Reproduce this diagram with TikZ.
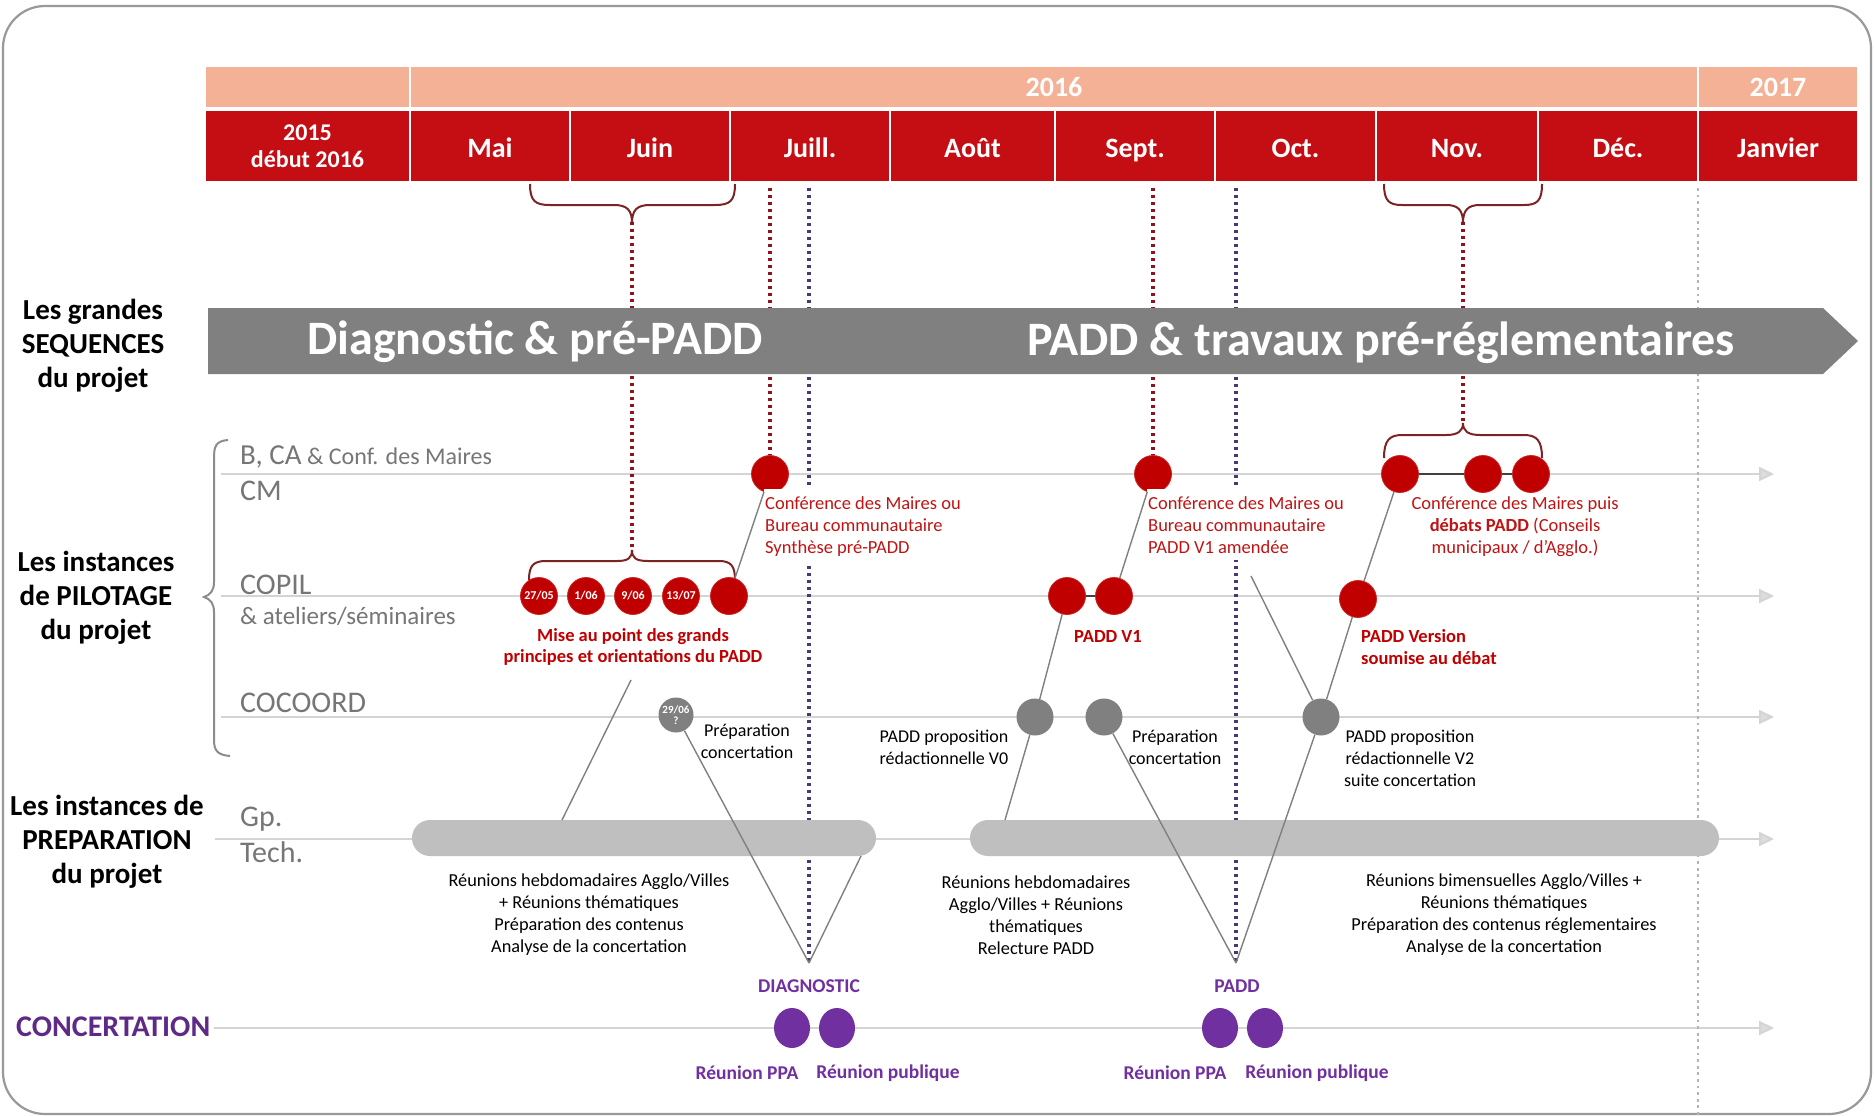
\documentclass[tikz,border=0pt]{standalone}
\usepackage{fontspec}
\setmainfont{Carlito}
\usetikzlibrary{arrows.meta,shapes.geometric}
\definecolor{cred}{RGB}{192,0,0}
\definecolor{hdrred}{RGB}{197,14,20}
\definecolor{peach}{RGB}{244,177,150}
\definecolor{bangrey}{RGB}{128,128,128}
\definecolor{lgrey}{RGB}{212,212,212}
\definecolor{bargrey}{RGB}{191,191,191}
\definecolor{cgrey}{RGB}{128,128,128}
\definecolor{cpurple}{RGB}{112,48,160}
\definecolor{lblgrey}{RGB}{118,118,118}
\definecolor{dotred}{RGB}{140,20,30}
\definecolor{dotblue}{RGB}{75,55,115}
\definecolor{bracecol}{RGB}{125,35,35}
\definecolor{redtxt}{RGB}{192,20,20}
\newcommand{\fsz}[2]{\fontsize{#1}{#2}\selectfont}
\begin{document}
\begin{tikzpicture}[x=1pt,y=-1pt,
  hdrcell/.style={fill=hdrred, draw=white, line width=1.5pt, text=white, font=\bfseries\fsz{28}{30}, inner sep=0pt, align=center, minimum height=72pt},
  mcell/.style={hdrcell, text height=25pt, text depth=2pt},
  peachcell/.style={fill=peach, draw=white, line width=1.5pt, text=white, font=\bfseries\fsz{28}{30}, inner sep=0pt, minimum height=42pt},
  bigleft/.style={font=\bfseries\fsz{29}{34}, align=center, inner sep=0pt},
  rowlbl/.style={text=lblgrey, anchor=west, inner sep=0pt, font=\fsz{30}{32}},
  hline/.style={draw=lgrey, line width=2pt, -{Triangle[length=15pt,width=14pt,fill=lgrey!80]}},
  dotr/.style={draw=dotred, line width=3.3pt, dash pattern=on 3.3pt off 3.7pt},
  dotb/.style={draw=dotblue, line width=3.3pt, dash pattern=on 3.3pt off 3.7pt},
  dotg/.style={draw=lgrey!85!black, line width=2.8pt, dash pattern=on 2.8pt off 3.8pt},
  brc/.style={draw=bracecol, line width=2pt},
  redc/.style={circle, fill=cred, draw=cred!85!white, line width=0.8pt, minimum size=37pt, inner sep=0pt, text=white, font=\bfseries\fsz{12}{13}},
  greyc/.style={circle, fill=cgrey, minimum size=37pt, inner sep=0pt, text=white, font=\bfseries\fsz{11}{11}, align=center},
  purc/.style={ellipse, fill=cpurple, minimum width=36pt, minimum height=40pt, inner sep=0pt},
  bar/.style={fill=bargrey, rounded corners=18pt, minimum height=36pt, inner sep=0pt},
  conn/.style={draw=cgrey, line width=1.4pt},
  darkconn/.style={draw=black!75, line width=1.6pt},
  redlbl/.style={text=redtxt, font=\fsz{18.5}{22}, align=left, inner xsep=1pt, inner ysep=7pt, fill=white},
  redbold/.style={text=cred, font=\bfseries\fsz{18.5}{21.5}, align=center, inner sep=1pt},
  blk/.style={text=black, font=\fsz{18}{22}, align=center, inner sep=1pt, fill=white},
  desc/.style={text=black, font=\fsz{18.3}{22}, align=center, inner sep=1pt},
  purlbl/.style={text=cpurple, font=\bfseries\fsz{19.5}{22}, inner sep=1pt}
]
\useasboundingbox (0,0) rectangle (1874,1116);
\fill[white] (0,0) rectangle (1874,1116);
\draw[line width=2.2pt, draw=black!40, rounded corners=42pt] (3,6) rectangle (1871,1114);

% ---------- header ----------
\node[peachcell, minimum width=205pt] (y0) at (307.5,87) {};
\node[peachcell, minimum width=1288pt] (y2016) at (1054,87) {2016};
\node[peachcell, minimum width=160pt] (y2017) at (1778,87) {2017};
\node[hdrcell, minimum width=205pt, font=\bfseries\fsz{24}{27}] (m0) at (307.5,146) {2015\\début 2016};
\node[mcell, minimum width=160pt] (m1) at (490,146) {Mai};
\node[mcell, minimum width=160pt] (m2) at (650,146) {Juin};
\node[mcell, minimum width=160pt] (m3) at (810,146) {Juill.};
\node[mcell, minimum width=165pt] (m4) at (972.5,146) {Août};
\node[mcell, minimum width=160pt] (m5) at (1135,146) {Sept.};
\node[mcell, minimum width=161pt] (m6) at (1295.5,146) {Oct.};
\node[mcell, minimum width=162pt] (m7) at (1457,146) {Nov.};
\node[mcell, minimum width=160pt] (m8) at (1618,146) {Déc.};
\node[mcell, minimum width=160pt] (m9) at (1778,146) {Janvier};

% ---------- left labels ----------
\node[bigleft] (seq) at (93,346) {Les grandes\\SEQUENCES\\du projet};
\node[bigleft] (pil) at (96,598) {Les instances\\de PILOTAGE\\du projet};
\node[bigleft] (prep) at (107,842) {Les instances de\\PREPARATION\\du projet};
\node[bigleft, text=cpurple!85!black, font=\bfseries\fsz{30}{34}, anchor=west] (conc) at (16,1027) {CONCERTATION};

% left curly brace
\draw[draw=black!45, line width=2pt] (228,440) .. controls (216,441) and (214,446) .. (214,458) -- (214,582) .. controls (214,591) and (210,595) .. (204,597) .. controls (210,599) and (214,603) .. (214,612) -- (214,740) .. controls (214,751) and (218,755) .. (230,756);

% row labels
\node[rowlbl] (lb1) at (240,457) {{\fsz{29}{30}B, CA}{\fsz{24}{30} \& Conf. des Maires}};
\node[rowlbl] (lb2) at (240,491) {CM};
\node[rowlbl] (lb3) at (240,585) {COPIL};
\node[rowlbl, font=\fsz{25}{28}] (lb4) at (240,616) {\& ateliers/séminaires};
\node[rowlbl] (lb5) at (240,703) {COCOORD};
\node[rowlbl] (lb6) at (240,819) {Gp.};
\node[rowlbl] (lb7) at (240,852) {Tech.};

% ---------- timelines ----------
\coordinate (tcm0) at (221,474);   \coordinate (tcm1) at (1774,474);
\coordinate (tcp0) at (221,596);   \coordinate (tcp1) at (1774,596);
\coordinate (tcc0) at (221,717);   \coordinate (tcc1) at (1774,717);
\coordinate (tgp0) at (215,839);   \coordinate (tgp1) at (1774,839);
\coordinate (tco0) at (214,1028);  \coordinate (tco1) at (1774,1028);
\draw[hline] (tcm0) -- (tcm1);
\draw[hline] (tcp0) -- (tcp1);
\draw[hline] (tcc0) -- (tcc1);
\draw[hline] (tgp0) -- (tgp1);
\draw[hline] (tco0) -- (tco1);

% ---------- key coordinates ----------
\coordinate (bt1) at (632,222);   % top-left brace tip
\coordinate (bt2) at (1463,222);  % top-right brace tip
\coordinate (bc1) at (632,551);   % COPIL brace tip
\coordinate (bc2) at (1463,424);  % CM brace tip
\coordinate (diagapex) at (809,963);
\coordinate (paddapex) at (1236,963);
\coordinate (d1) at (770,188);
\coordinate (d2) at (809,188);
\coordinate (d3) at (1153,188);
\coordinate (d4) at (1236,188);
\coordinate (d5) at (1698,188);
\coordinate (d5e) at (1698,1116);

% circles on the CM row
\node[redc] (cm1) at (770,474) {};
\node[redc] (cm2) at (1153,474) {};
\node[redc] (cm3) at (1400,474) {};
\node[redc] (cm4) at (1483,474) {};
\node[redc] (cm5) at (1531,474) {};

% ---------- dotted verticals ----------
\draw[dotr] (bt1) -- (bc1);
\draw[dotr] (d1) -- (cm1.north);
\draw[dotb] (d2) -- (diagapex);
\draw[dotr] (d3) -- (cm2.north);
\draw[dotb] (d4) -- (paddapex);
\draw[dotr] (bt2) -- (bc2);
\draw[dotg] (d5) -- (d5e);

% ---------- braces ----------
\draw[brc] (530,184) .. controls (530,201) and (535,205) .. (550,205) -- (614,205) .. controls (627,205) and (632,210) .. (632,223) .. controls (632,210) and (637,205) .. (650,205) -- (715,205) .. controls (730,205) and (735,201) .. (735,184);
\draw[brc] (1384,184) .. controls (1384,201) and (1389,205) .. (1402,205) -- (1446,205) .. controls (1458,205) and (1463,210) .. (1463,223) .. controls (1463,210) and (1468,205) .. (1480,205) -- (1524,205) .. controls (1537,205) and (1542,201) .. (1542,184);
\draw[brc] (529,580) .. controls (529,566) and (533,561) .. (546,561) -- (617,561) .. controls (628,561) and (632,558) .. (632,550) .. controls (632,558) and (636,561) .. (648,561) -- (719,561) .. controls (731,561) and (735,566) .. (735,580);
\draw[brc] (1384,458) .. controls (1384,441) and (1389,435) .. (1402,435) -- (1446,435) .. controls (1458,435) and (1463,431) .. (1463,423) .. controls (1463,431) and (1468,435) .. (1480,435) -- (1524,435) .. controls (1537,435) and (1542,441) .. (1542,458);

% ---------- banner ----------
\fill[bangrey] (208,308) -- (1823,308) -- (1858,341) -- (1823,374) -- (208,374) -- cycle;
\node[text=white, font=\bfseries\fsz{48}{50}, inner sep=0pt] (ban1) at (535,342) {Diagnostic \& pré-PADD};
\node[text=white, font=\bfseries\fsz{48}{50}, inner sep=0pt] (ban2) at (1381,343) {PADD \& travaux pré-réglementaires};

% ---------- bars ----------
\node[bar, minimum width=464pt] (bar1) at (644,838) {};
\node[bar, minimum width=749pt] (bar2) at (1344.5,838) {};

% ---------- other circles ----------
\node[redc] (p1) at (539,596) {27/05};
\node[redc] (p2) at (586,596) {1/06};
\node[redc] (p3) at (633,596) {9/06};
\node[redc] (p4) at (681,596) {13/07};
\node[redc] (p5) at (729,596) {};
\node[redc] (pv1a) at (1067,596) {};
\node[redc] (pv1b) at (1114,596) {};
\node[redc] (pver) at (1358,599) {};
\node[greyc, minimum size=35pt] (k1) at (676,715) {29/06\\?};
\node[greyc] (k2) at (1035,717) {};
\node[greyc] (k3) at (1104,717) {};
\node[greyc] (k4) at (1321,717) {};
\node[purc] (u1) at (792,1028) {};
\node[purc] (u2) at (837,1028) {};
\node[purc] (u3) at (1220,1028) {};
\node[purc] (u4) at (1265,1028) {};

% ---------- texts ----------
\node[redlbl, anchor=north west] (conf1) at (764,489) {Conférence des Maires ou\\Bureau communautaire\\Synthèse pré-PADD};
\node[redlbl, anchor=north west] (conf2) at (1147,489) {Conférence des Maires ou\\Bureau communautaire\\PADD V1 amendée};
\node[redlbl, anchor=north, align=center, fill=none] (conf3) at (1515,489) {Conférence des Maires puis\\\textbf{débats PADD} (Conseils\\municipaux / d’Agglo.)};
\node[redbold] (mise) at (633,647) {Mise au point des grands\\principes et orientations du PADD};
\node[redbold] (padv1) at (1108,636) {PADD V1};
\node[redbold, align=left, anchor=west] (padver) at (1360,647) {PADD Version\\soumise au débat};
\node[blk] (prep1) at (747,741) {Préparation\\concertation};
\node[blk] (v0) at (944,747) {PADD proposition\\rédactionnelle V0};
\node[blk] (prep2) at (1175,747) {Préparation\\concertation};
\node[blk] (v2) at (1410,758) {PADD proposition\\rédactionnelle V2\\suite concertation};
\node[desc] (desc1) at (589,915) {Réunions hebdomadaires Agglo/Villes\\+ Réunions thématiques\\Préparation des contenus\\Analyse de la concertation};
\node[desc] (desc2) at (1036,915) {Réunions hebdomadaires\\Agglo/Villes + Réunions\\thématiques\\Relecture PADD};
\node[desc] (desc3) at (1504,915) {Réunions bimensuelles Agglo/Villes +\\Réunions thématiques\\Préparation des contenus réglementaires\\Analyse de la concertation};
\node[purlbl] (diag) at (809,986) {DIAGNOSTIC};
\node[purlbl] (padd) at (1237,986) {PADD};
\node[purlbl] (r1) at (747,1073) {Réunion PPA};
\node[purlbl] (r2) at (888,1073) {Réunion publique};
\node[purlbl] (r3) at (1175,1073) {Réunion PPA};
\node[purlbl] (r4) at (1317,1073) {Réunion publique};

% ---------- connectors ----------
\coordinate (misefoot) at (631,680);
\coordinate (b1a) at (562,820);
\coordinate (b1r) at (861,856);
\coordinate (b2a) at (1005,820);
\coordinate (amendfoot) at (1251,576);
\draw[conn] (p5) -- (cm1);
\draw[conn] (misefoot) -- (b1a);
\draw[conn] (k1) -- (diagapex);
\draw[conn] (b1r) -- (diagapex);
\draw[conn] (cm2) -- (pv1b);
\draw[conn] (pv1a) -- (k2);
\draw[conn] (k2) -- (b2a);
\draw[conn] (k3) -- (paddapex);
\draw[conn] (paddapex) -- (k4);
\draw[conn] (k4) -- (pver);
\draw[conn] (pver) -- (cm3);
\draw[conn] (amendfoot) -- (k4);
\draw[darkconn] (pv1a) -- (pv1b);
\draw[darkconn] (cm3) -- (cm4);
\draw[darkconn] (cm4) -- (cm5);
\end{tikzpicture}
\end{document}
